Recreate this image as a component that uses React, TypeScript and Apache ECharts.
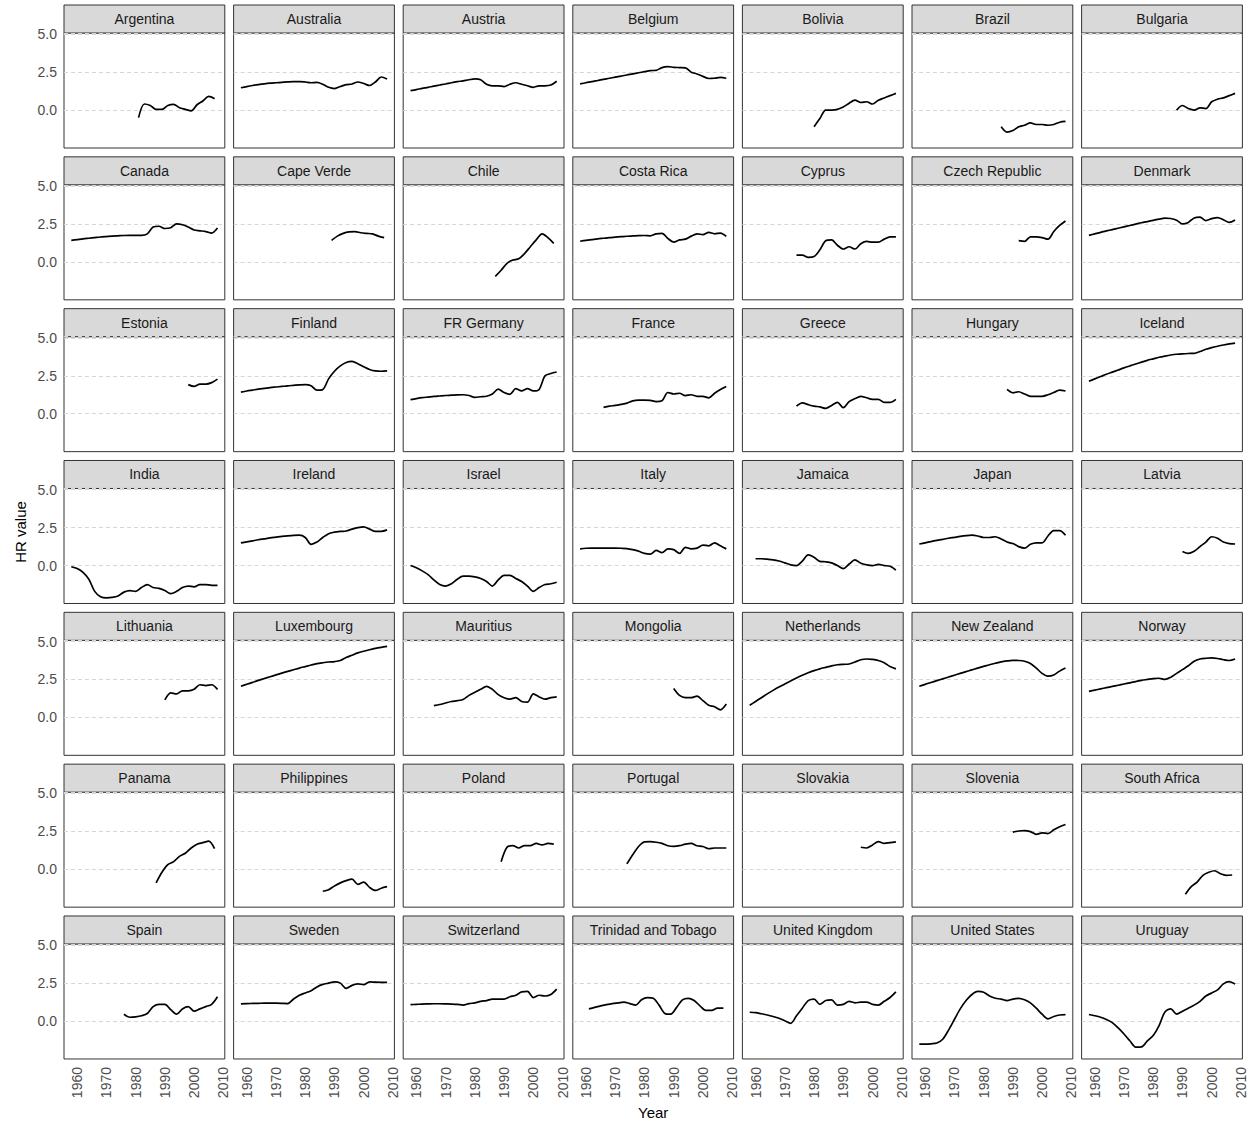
import React, { useEffect, useRef } from "react";
import * as echarts from "echarts";

const COUNTRIES = [
  "Argentina", "Australia", "Austria", "Belgium", "Bolivia", "Brazil", "Bulgaria",
  "Canada", "Cape Verde", "Chile", "Costa Rica", "Cyprus", "Czech Republic", "Denmark",
  "Estonia", "Finland", "FR Germany", "France", "Greece", "Hungary", "Iceland",
  "India", "Ireland", "Israel", "Italy", "Jamaica", "Japan", "Latvia",
  "Lithuania", "Luxembourg", "Mauritius", "Mongolia", "Netherlands", "New Zealand", "Norway",
  "Panama", "Philippines", "Poland", "Portugal", "Slovakia", "Slovenia", "South Africa",
  "Spain", "Sweden", "Switzerland", "Trinidad and Tobago", "United Kingdom", "United States", "Uruguay",
];

// first year of each country's series (values follow every YEAR_STEP years)
const START_YEARS = [
  1981, 1958, 1958, 1958, 1980, 1986, 1988,
  1958, 1989, 1987, 1958, 1974, 1992, 1958,
  1998, 1958, 1958, 1966, 1974, 1988, 1958,
  1958, 1958, 1958, 1958, 1960, 1958, 1990,
  1990, 1958, 1966, 1990, 1958, 1958, 1958,
  1987, 1986, 1989, 1974, 1996, 1990, 1991,
  1976, 1958, 1958, 1961, 1958, 1958, 1958,
];
const YEAR_STEP = 2;

const argentina = [-0.5, 0.4, 0.3, 0.05, 0.05, 0.3, 0.38, 0.15, 0.05, -0.05, 0.35, 0.6, 0.9, 0.75];
const australia = [1.47, 1.55, 1.62, 1.68, 1.73, 1.77, 1.8, 1.83, 1.86, 1.88, 1.88, 1.85, 1.8, 1.82, 1.7, 1.5, 1.42, 1.55, 1.68, 1.72, 1.85, 1.75, 1.62, 1.85, 2.18, 2.05];
const austria = [1.28, 1.35, 1.43, 1.5, 1.58, 1.65, 1.72, 1.8, 1.87, 1.93, 2.0, 2.05, 2.0, 1.7, 1.6, 1.6, 1.55, 1.7, 1.8, 1.7, 1.6, 1.5, 1.6, 1.6, 1.65, 1.9];
const belgium = [1.73, 1.8, 1.88, 1.95, 2.02, 2.1, 2.17, 2.24, 2.31, 2.39, 2.46, 2.53, 2.6, 2.62, 2.8, 2.86, 2.82, 2.8, 2.78, 2.5, 2.38, 2.22, 2.08, 2.1, 2.15, 2.1];
const bolivia = [-1.1, -0.55, 0.0, 0.0, 0.05, 0.2, 0.45, 0.65, 0.5, 0.55, 0.4, 0.65, 0.8, 0.95, 1.1];
const brazil = [-1.1, -1.45, -1.35, -1.1, -1.0, -0.85, -0.95, -0.95, -1.0, -0.95, -0.8, -0.75];
const bulgaria = [0.0, 0.3, 0.1, 0.0, 0.15, 0.1, 0.55, 0.72, 0.8, 0.95, 1.1];
const canada = [1.42, 1.47, 1.52, 1.56, 1.6, 1.64, 1.67, 1.7, 1.72, 1.74, 1.75, 1.75, 1.75, 1.85, 2.3, 2.35, 2.2, 2.25, 2.5, 2.45, 2.3, 2.1, 2.05, 2.0, 1.9, 2.23];
const capeVerde = [1.42, 1.7, 1.88, 1.98, 2.0, 1.92, 1.88, 1.85, 1.7, 1.6];
const chile = [-0.95, -0.55, -0.1, 0.12, 0.2, 0.55, 1.0, 1.45, 1.85, 1.6, 1.22];
const costaRica = [1.36, 1.42, 1.47, 1.52, 1.56, 1.6, 1.63, 1.66, 1.69, 1.71, 1.73, 1.74, 1.72, 1.85, 1.88, 1.55, 1.3, 1.45, 1.5, 1.7, 1.85, 1.8, 1.95, 1.85, 1.9, 1.68];
const cyprus = [0.45, 0.45, 0.3, 0.35, 0.8, 1.4, 1.45, 1.1, 0.85, 1.0, 0.85, 1.2, 1.35, 1.3, 1.3, 1.5, 1.65, 1.65];
const czechRepublic = [1.4, 1.35, 1.65, 1.65, 1.6, 1.5, 2.0, 2.4, 2.7];
const denmark = [1.75, 1.85, 1.95, 2.04, 2.13, 2.22, 2.31, 2.4, 2.49, 2.58, 2.66, 2.74, 2.82, 2.88, 2.86, 2.75, 2.5, 2.6, 2.9, 2.95, 2.72, 2.85, 2.92, 2.78, 2.6, 2.76];
const estonia = [1.92, 1.8, 1.95, 1.95, 2.05, 2.28];
const finland = [1.42, 1.5, 1.56, 1.62, 1.67, 1.72, 1.76, 1.8, 1.84, 1.87, 1.9, 1.92, 1.85, 1.55, 1.6, 2.3, 2.8, 3.15, 3.38, 3.45, 3.3, 3.1, 2.92, 2.82, 2.8, 2.82];
const frGermany = [0.93, 1.0, 1.06, 1.1, 1.14, 1.17, 1.2, 1.22, 1.24, 1.25, 1.2, 1.08, 1.12, 1.15, 1.3, 1.62, 1.4, 1.28, 1.65, 1.5, 1.65, 1.5, 1.6, 2.5, 2.65, 2.75];
const france = [0.42, 0.5, 0.55, 0.62, 0.7, 0.85, 0.9, 0.9, 0.88, 0.8, 0.85, 1.4, 1.3, 1.35, 1.2, 1.25, 1.15, 1.15, 1.05, 1.35, 1.6, 1.8];
const greece = [0.5, 0.72, 0.6, 0.5, 0.45, 0.35, 0.55, 0.75, 0.4, 0.8, 1.0, 1.15, 1.05, 0.95, 0.95, 0.75, 0.75, 0.95];
const hungary = [1.6, 1.38, 1.45, 1.3, 1.15, 1.15, 1.15, 1.25, 1.4, 1.55, 1.5];
const iceland = [2.14, 2.3, 2.45, 2.6, 2.74, 2.88, 3.02, 3.15, 3.28, 3.4, 3.52, 3.62, 3.72, 3.8, 3.87, 3.92, 3.95, 3.97, 3.98, 4.1, 4.25, 4.36, 4.45, 4.53, 4.6, 4.65];
const india = [-0.08, -0.2, -0.45, -0.9, -1.7, -2.05, -2.13, -2.1, -2.0, -1.75, -1.65, -1.7, -1.45, -1.25, -1.45, -1.5, -1.65, -1.85, -1.7, -1.45, -1.35, -1.4, -1.25, -1.25, -1.3, -1.3];
const ireland = [1.49, 1.56, 1.63, 1.7, 1.76, 1.82, 1.87, 1.92, 1.96, 1.99, 2.0, 1.85, 1.4, 1.55, 1.85, 2.1, 2.2, 2.25, 2.28, 2.4, 2.5, 2.55, 2.4, 2.25, 2.25, 2.35];
const israel = [0.0, -0.15, -0.35, -0.6, -0.95, -1.25, -1.35, -1.2, -0.9, -0.7, -0.7, -0.75, -0.85, -1.05, -1.35, -0.95, -0.65, -0.65, -0.85, -1.05, -1.35, -1.7, -1.45, -1.25, -1.2, -1.1];
const italy = [1.1, 1.14, 1.15, 1.15, 1.15, 1.15, 1.15, 1.14, 1.12, 1.05, 0.95, 0.8, 0.75, 1.0, 0.85, 1.1, 1.05, 0.8, 1.2, 1.1, 1.15, 1.35, 1.3, 1.5, 1.3, 1.1];
const jamaica = [0.45, 0.45, 0.42, 0.38, 0.3, 0.18, 0.05, 0.0, 0.3, 0.7, 0.55, 0.28, 0.25, 0.18, 0.0, -0.2, 0.1, 0.38, 0.15, 0.05, 0.0, 0.08, 0.0, -0.05, -0.3];
const japan = [1.42, 1.5, 1.58, 1.66, 1.73, 1.8, 1.86, 1.92, 1.97, 2.0, 1.95, 1.85, 1.85, 1.9, 1.75, 1.55, 1.45, 1.25, 1.15, 1.4, 1.5, 1.5, 1.95, 2.3, 2.3, 2.0];
const latvia = [0.93, 0.8, 0.95, 1.25, 1.55, 1.9, 1.8, 1.55, 1.45, 1.42];
const lithuania = [1.15, 1.62, 1.55, 1.75, 1.75, 1.85, 2.15, 2.1, 2.15, 1.85];
const luxembourg = [2.05, 2.18, 2.31, 2.44, 2.56, 2.68, 2.8, 2.92, 3.03, 3.14, 3.25, 3.35, 3.45, 3.54, 3.6, 3.65, 3.68, 3.75, 3.95, 4.1, 4.25, 4.36, 4.46, 4.55, 4.62, 4.68];
const mauritius = [0.78, 0.85, 0.95, 1.05, 1.1, 1.18, 1.45, 1.65, 1.85, 2.05, 1.85, 1.5, 1.3, 1.2, 1.3, 1.05, 1.0, 1.55, 1.35, 1.2, 1.3, 1.35];
const mongolia = [1.9, 1.45, 1.3, 1.3, 1.4, 1.1, 0.8, 0.7, 0.5, 0.88];
const netherlands = [0.8, 1.05, 1.3, 1.55, 1.78, 2.0, 2.2, 2.4, 2.6, 2.78, 2.94, 3.08, 3.2, 3.3, 3.4, 3.47, 3.5, 3.52, 3.65, 3.8, 3.85, 3.82, 3.75, 3.6, 3.35, 3.2];
const newZealand = [2.05, 2.18, 2.3, 2.42, 2.54, 2.66, 2.78, 2.9, 3.02, 3.13, 3.25, 3.36, 3.47, 3.57, 3.66, 3.72, 3.76, 3.75, 3.7, 3.55, 3.25, 2.9, 2.72, 2.8, 3.05, 3.25];
const norway = [1.72, 1.8, 1.88, 1.96, 2.04, 2.12, 2.2, 2.28, 2.36, 2.44, 2.5, 2.56, 2.58, 2.5, 2.65, 2.9, 3.15, 3.4, 3.7, 3.85, 3.9, 3.92, 3.88, 3.8, 3.75, 3.85];
const panama = [-0.9, -0.2, 0.3, 0.5, 0.85, 1.05, 1.4, 1.65, 1.75, 1.85, 1.35];
const philippines = [-1.45, -1.35, -1.1, -0.9, -0.75, -0.65, -1.0, -0.85, -1.2, -1.4, -1.25, -1.15];
const poland = [0.5, 1.45, 1.55, 1.4, 1.55, 1.55, 1.7, 1.6, 1.7, 1.65];
const portugal = [0.35, 0.95, 1.5, 1.8, 1.82, 1.78, 1.7, 1.55, 1.5, 1.55, 1.65, 1.7, 1.55, 1.5, 1.35, 1.4, 1.4, 1.4];
const slovakia = [1.45, 1.4, 1.6, 1.82, 1.7, 1.75, 1.8];
const slovenia = [2.45, 2.52, 2.55, 2.48, 2.3, 2.4, 2.35, 2.6, 2.8, 2.95];
const southAfrica = [-1.65, -1.15, -0.85, -0.4, -0.2, -0.1, -0.3, -0.4, -0.38];
const spain = [0.45, 0.25, 0.28, 0.35, 0.5, 0.95, 1.1, 1.1, 0.75, 0.45, 0.8, 0.95, 0.65, 0.8, 0.95, 1.1, 1.6];
const sweden = [1.13, 1.15, 1.16, 1.17, 1.18, 1.18, 1.18, 1.17, 1.15, 1.45, 1.7, 1.85, 2.0, 2.25, 2.42, 2.5, 2.58, 2.5, 2.15, 2.35, 2.45, 2.4, 2.58, 2.56, 2.55, 2.55];
const switzerland = [1.08, 1.1, 1.12, 1.13, 1.14, 1.14, 1.13, 1.12, 1.1, 1.05, 1.15, 1.2, 1.3, 1.35, 1.45, 1.45, 1.45, 1.6, 1.7, 1.92, 1.95, 1.55, 1.7, 1.65, 1.75, 2.1];
const trinidadAndTobago = [0.8, 0.9, 1.0, 1.08, 1.15, 1.2, 1.25, 1.15, 1.05, 1.4, 1.55, 1.5, 1.05, 0.5, 0.45, 0.9, 1.4, 1.5, 1.35, 1.0, 0.7, 0.7, 0.85, 0.85];
const unitedKingdom = [0.58, 0.55, 0.48, 0.4, 0.3, 0.18, 0.02, -0.15, 0.35, 0.85, 1.35, 1.45, 1.1, 1.35, 1.4, 1.05, 1.1, 1.3, 1.2, 1.25, 1.25, 1.1, 1.05, 1.3, 1.55, 1.92];
const unitedStates = [-1.52, -1.52, -1.5, -1.45, -1.2, -0.6, 0.1, 0.8, 1.35, 1.75, 1.95, 1.9, 1.65, 1.5, 1.45, 1.35, 1.45, 1.5, 1.4, 1.2, 0.85, 0.45, 0.15, 0.3, 0.4, 0.42];
const uruguay = [0.43, 0.35, 0.25, 0.1, -0.1, -0.45, -0.85, -1.3, -1.72, -1.7, -1.3, -0.95, -0.3, 0.6, 0.8, 0.45, 0.65, 0.85, 1.05, 1.3, 1.65, 1.85, 2.05, 2.45, 2.6, 2.44];

const SERIES_VALUES = [
  argentina, australia, austria, belgium, bolivia, brazil, bulgaria,
  canada, capeVerde, chile, costaRica, cyprus, czechRepublic, denmark,
  estonia, finland, frGermany, france, greece, hungary, iceland,
  india, ireland, israel, italy, jamaica, japan, latvia,
  lithuania, luxembourg, mauritius, mongolia, netherlands, newZealand, norway,
  panama, philippines, poland, portugal, slovakia, slovenia, southAfrica,
  spain, sweden, switzerland, trinidadAndTobago, unitedKingdom, unitedStates, uruguay,
];

const X_TICKS = [1960, 1970, 1980, 1990, 2000, 2010];
const X_MIN = 1955.5;
const X_MAX = 2010.5;
const Y_MIN = -2.5;
const Y_MAX = 5.08;
const Y_INTERVAL = 2.5;

const FONT = "'Liberation Sans', Arial, Helvetica, sans-serif";
const NCOL = 7;
const LEFT0 = 64;
const COL_STEP = 169.6;
const PANEL_W = 160.8;
const TOP0 = 33;
const ROW_STEP = 151.83;
const PANEL_H = 115;
const STRIP_H = 28;

export default function App() {
  const ref = useRef<HTMLDivElement>(null);

  useEffect(() => {
    document.body.style.margin = "0";
    if (!ref.current) return;
    const chart = echarts.init(ref.current, undefined, { renderer: "svg" });
    const nRows = Math.ceil(COUNTRIES.length / NCOL);

    const grids: any[] = [];
    const xAxes: any[] = [];
    const yAxes: any[] = [];
    const series: any[] = [];
    const graphics: any[] = [];

    COUNTRIES.forEach((name, i) => {
      const r = Math.floor(i / NCOL);
      const c = i % NCOL;
      const left = LEFT0 + c * COL_STEP;
      const top = TOP0 + r * ROW_STEP;
      grids.push({
        left,
        top,
        width: PANEL_W,
        height: PANEL_H,
        show: true,
        backgroundColor: "#ffffff",
        borderColor: "#333333",
        borderWidth: 1,
        containLabel: false,
      });
      xAxes.push({
        gridIndex: i,
        type: "value",
        min: X_MIN,
        max: X_MAX,
        axisLine: { show: false },
        axisTick: { show: false },
        splitLine: { show: false },
        axisLabel: {
          show: r === nRows - 1,
          customValues: X_TICKS,
          rotate: 90,
          margin: 8,
          color: "#4d4d4d",
          fontSize: 14,
          fontFamily: FONT,
          formatter: (v: number) => String(v),
        },
      });
      yAxes.push({
        gridIndex: i,
        type: "value",
        min: Y_MIN,
        max: Y_MAX,
        interval: Y_INTERVAL,
        axisLine: { show: false },
        axisTick: { show: false },
        splitLine: {
          show: true,
          showMinLine: false,
          lineStyle: { type: [4, 3], color: "#d6d6d6", width: 1 },
        },
        axisLabel: {
          show: c === 0,
          margin: 7,
          color: "#4d4d4d",
          fontSize: 14,
          fontFamily: FONT,
          formatter: (v: number) => (v < -0.01 ? "" : v.toFixed(1)),
        },
      });
      const vals = SERIES_VALUES[i];
      const start = START_YEARS[i];
      series.push({
        type: "line",
        xAxisIndex: i,
        yAxisIndex: i,
        data: vals.map((v, k) => [start + k * YEAR_STEP, v]),
        showSymbol: false,
        smooth: 0.3,
        lineStyle: { color: "#000000", width: 1.7 },
        itemStyle: { color: "#000000" },
        silent: true,
        z: 3,
      });
      graphics.push({
        type: "rect",
        shape: { x: left, y: top - STRIP_H, width: PANEL_W, height: STRIP_H },
        style: { fill: "#d9d9d9", stroke: "#333333", lineWidth: 1 },
        silent: true,
      });
      graphics.push({
        type: "text",
        x: left + PANEL_W / 2,
        y: top - STRIP_H / 2,
        style: {
          text: name,
          align: "center",
          verticalAlign: "middle",
          fontSize: 14,
          fontFamily: FONT,
          fill: "#1a1a1a",
        },
        silent: true,
      });
    });

    const plotLeft = LEFT0;
    const plotRight = LEFT0 + (NCOL - 1) * COL_STEP + PANEL_W;
    const plotTop = TOP0 - STRIP_H;
    const plotBottom = TOP0 + (nRows - 1) * ROW_STEP + PANEL_H;

    graphics.push({
      type: "text",
      x: (plotLeft + plotRight) / 2,
      y: 1112,
      style: {
        text: "Year",
        align: "center",
        verticalAlign: "middle",
        fontSize: 15,
        fontFamily: FONT,
        fill: "#000000",
      },
      silent: true,
    });
    graphics.push({
      type: "text",
      x: 20,
      y: (plotTop + plotBottom) / 2,
      rotation: Math.PI / 2,
      style: {
        text: "HR value",
        align: "center",
        verticalAlign: "middle",
        fontSize: 15,
        fontFamily: FONT,
        fill: "#000000",
      },
      silent: true,
    });

    chart.setOption({
      animation: false,
      backgroundColor: "#ffffff",
      grid: grids,
      xAxis: xAxes,
      yAxis: yAxes,
      series,
      graphic: { elements: graphics },
    });

    return () => {
      chart.dispose();
    };
  }, []);

  return <div ref={ref} style={{ width: 1252, height: 1124 }} />;
}
